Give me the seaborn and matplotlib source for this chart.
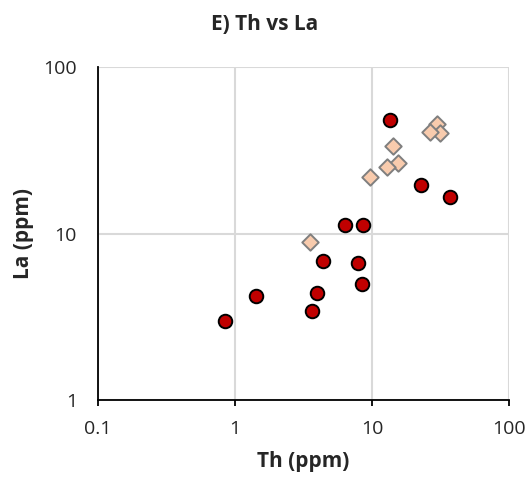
import pandas as pd
import seaborn as sns
import matplotlib.pyplot as plt
from matplotlib.ticker import FuncFormatter, LogLocator, NullLocator

# group A: red circles
th_a = [13.5, 22.7, 37.1, 6.35, 8.55, 4.37, 7.86, 8.5, 1.42, 3.95, 3.67, 0.845]
la_a = [48.2, 19.5, 16.6, 11.3, 11.2, 6.82, 6.64, 5.0, 4.24, 4.4, 3.44, 2.97]

# group B: peach diamonds
th_b = [30.0, 31.4, 26.5, 14.3, 15.6, 12.8, 9.67, 3.53]
la_b = [45.4, 40.1, 40.6, 33.6, 26.4, 25.1, 22.0, 8.92]

title = 'E) Th vs La'
xlabel = 'Th (ppm)'
ylabel = 'La (ppm)'

df_a = pd.DataFrame({'Th': th_a, 'La': la_a})
df_b = pd.DataFrame({'Th': th_b, 'La': la_b})

sns.set_style('white')
plt.rcParams['font.family'] = ['Open Sans', 'DejaVu Sans']

fig = plt.figure(figsize=(5.29, 4.83), dpi=100)
ax = fig.add_axes([0.185, 0.172, 0.777, 0.689])

sns.scatterplot(x='Th', y='La', data=df_a, marker='o', s=95, color='#C00000',
                edgecolor='black', linewidth=1.4, ax=ax, zorder=3)
sns.scatterplot(x='Th', y='La', data=df_b, marker='D', s=70, color='#F8CBAD',
                edgecolor='#7F7F7F', linewidth=1.4, ax=ax, zorder=3)

ax.set_xscale('log')
ax.set_yscale('log')
ax.set_xlim(0.1, 100)
ax.set_ylim(1, 100)
ax.xaxis.set_major_locator(LogLocator(base=10, numticks=10))
ax.yaxis.set_major_locator(LogLocator(base=10, numticks=10))
ax.xaxis.set_minor_locator(NullLocator())
ax.yaxis.set_minor_locator(NullLocator())
fmt = FuncFormatter(lambda v, p: '{:g}'.format(v))
ax.xaxis.set_major_formatter(fmt)
ax.yaxis.set_major_formatter(fmt)

ax.grid(True, which='major', color='#D9D9D9', linewidth=1.5)
ax.set_axisbelow(True)
for side in ['top', 'right']:
    ax.spines[side].set_visible(False)
for side in ['left', 'bottom']:
    ax.spines[side].set_color('black')
    ax.spines[side].set_linewidth(1.3)

ax.tick_params(axis='x', which='major', direction='out', length=4.5, width=1.3,
               color='black', labelsize=14, pad=10, bottom=True, labelcolor='#262626')
ax.tick_params(axis='y', which='major', length=0, labelsize=14, pad=15, labelcolor='#262626')

ax.set_xlabel(xlabel, fontsize=15, fontweight='bold', labelpad=9)
ax.set_ylabel(ylabel, fontsize=15, fontweight='bold', labelpad=7)
fig.suptitle(title, fontsize=15, fontweight='bold', x=0.5, y=0.97)

fig.savefig('out.png', dpi=100)
